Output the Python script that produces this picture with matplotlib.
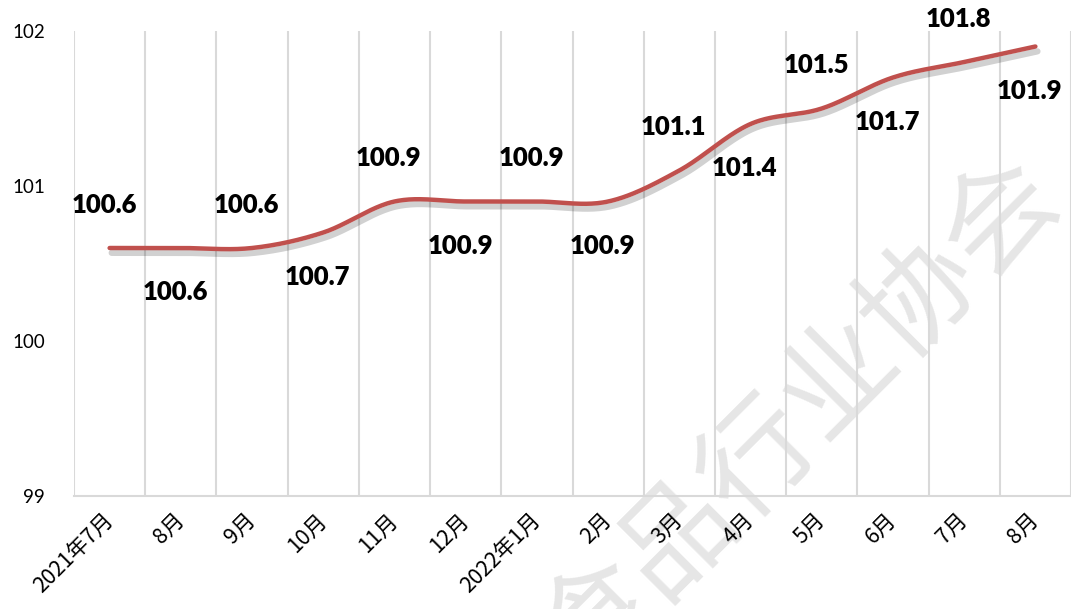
import numpy as np
import matplotlib
matplotlib.use('Agg')
import matplotlib.pyplot as plt
import matplotlib.patheffects as pe

# data
months = ['2021年7月', '8月', '9月', '10月', '11月', '12月', '2022年1月',
          '2月', '3月', '4月', '5月', '6月', '7月', '8月']
values = [100.6, 100.6, 100.6, 100.7, 100.9, 100.9, 100.9,
          100.9, 101.1, 101.4, 101.5, 101.7, 101.8, 101.9]
yticks = [99, 100, 101, 102]

LINE_COLOR = '#C0504D'
GRID_COLOR = '#d9d9d9'
CJK = ['Noto Sans CJK SC', 'DejaVu Sans']


def smooth(x, y, n=40):
    # Catmull-Rom curve through the points, similar to Excel's smoothed line
    pts = np.column_stack([x, y]).astype(float)
    P = np.vstack([pts[0], pts, pts[-1]])
    t = np.linspace(0, 1, n)[:, None]
    segs = []
    for i in range(1, len(P) - 2):
        p0, p1, p2, p3 = P[i - 1], P[i], P[i + 1], P[i + 2]
        seg = 0.5 * (2 * p1 + (-p0 + p2) * t
                     + (2 * p0 - 5 * p1 + 4 * p2 - p3) * t ** 2
                     + (-p0 + 3 * p1 - 3 * p2 + p3) * t ** 3)
        segs.append(seg if i == 1 else seg[1:])
    s = np.vstack(segs)
    return s[:, 0], s[:, 1]


fig = plt.figure(figsize=(10.71, 6.09), dpi=100)
ax = fig.add_axes([74 / 1071, 1 - 496 / 609, 1 - 74 / 1071, (496 - 31) / 609])
ax.set_facecolor('none')

# watermark behind everything
fig.text(800 / 1071, 1 - 418 / 609, '食品行业协会', rotation=45,
         ha='center', va='center', fontsize=82, color='#e6e6e6',
         family=CJK, zorder=-1)

x = np.arange(len(values))
sx, sy = smooth(x, values)
ax.plot(sx, sy, color=LINE_COLOR, lw=3.2, solid_capstyle='round', zorder=3,
        path_effects=[pe.SimpleLineShadow(offset=(1.5, -3.5), shadow_color='k',
                                          alpha=0.18, linewidth=4.5),
                      pe.Normal()])

# labels alternate above / below the line
for i, v in enumerate(values):
    dy = 31 if i % 2 == 0 else -32
    ax.annotate(f'{v:.1f}', (i, v), xytext=(-4, dy), textcoords='offset points',
                ha='center', va='center', fontsize=18.5, fontweight='heavy',
                family='Lato', color='black', zorder=4)

ax.set_xlim(-0.5, len(values) - 0.5)
ax.set_ylim(yticks[0], yticks[-1])
ax.set_yticks(yticks)
ax.set_yticklabels([str(t) for t in yticks], family='Lato', fontsize=13.5)
ax.tick_params(axis='y', length=0, pad=21)

ax.set_xticks(x)
ax.set_xticklabels(months, rotation=45, ha='right', va='center',
                   rotation_mode='anchor', family=CJK, fontsize=15.5)
ax.tick_params(axis='x', length=0, pad=15)

ax.set_xticks(np.arange(-0.5, len(values), 1), minor=True)
ax.tick_params(axis='x', which='minor', length=0)
ax.grid(axis='x', which='minor', color=GRID_COLOR, lw=1.5)
ax.grid(axis='x', which='major', visible=False)

for side in ['top', 'right', 'left']:
    ax.spines[side].set_visible(False)
ax.spines['bottom'].set_color(GRID_COLOR)
ax.spines['bottom'].set_linewidth(1.5)

fig.savefig('out.png', dpi=100)
